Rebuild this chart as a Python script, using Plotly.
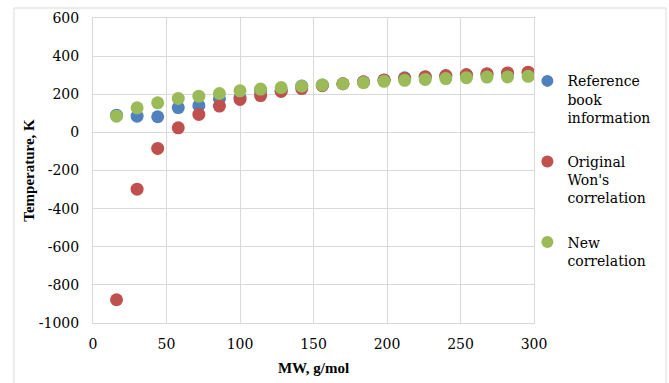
import plotly.graph_objects as go

mw = [16, 30, 44, 58, 72, 86, 100, 114, 128, 142, 156, 170, 184, 198, 212, 226, 240, 254, 268, 282, 296]
ref_book = [90, 85, 82, 130, 140, 176, 183, 216, 220, 243, 248, 255, 264, 274, 286, 290, 295, 300, 305, 309, 313]
won_orig = [-878, -298, -84, 24, 94, 138, 173, 193, 215, 230, 245, 255, 265, 275, 283, 292, 298, 303, 308, 312, 316]
new_corr = [85, 129, 155, 178, 190, 204, 218, 227, 235, 242, 248, 255, 261, 268, 273, 278, 282, 287, 290, 291, 294]

y_ticks = [-1000, -800, -600, -400, -200, 0, 200, 400, 600]
y_ticktext = ["-1000", "-800", "-600", "-400", "-200", "0", "200", "400", "600"]
x_ticks = [0, 50, 100, 150, 200, 250, 300]

series = [
    ("Reference<br>book<br>information", ref_book, "#4F81BD"),
    ("Original<br>Won's<br>correlation", won_orig, "#C0504D"),
    ("New<br>correlation", new_corr, "#9BBB59"),
]

bold_serif = "Liberation Serif"
reg_serif = "DejaVu Serif"
fig = go.Figure()
for i, (name, vals, col) in enumerate(series):
    fig.add_trace(go.Scatter(x=mw, y=vals, mode="markers", name=name,
                             legendgroup=f"g{i}",
                             marker=dict(color=col, size=13, line=dict(width=0))))

grid = "#d9d9d9"
fig.update_layout(
    width=669, height=383,
    margin=dict(l=93, r=135, t=18, b=60, autoexpand=False),
    paper_bgcolor="white", plot_bgcolor="white",
    font=dict(family=reg_serif, size=14, color="#000000"),
    showlegend=True,
    legend=dict(x=0.985, xanchor="left", y=0.845, yanchor="top",
                bgcolor="rgba(0,0,0,0)",
                font=dict(family=reg_serif, size=14, color="#000000"),
                valign="top", tracegroupgap=23, traceorder="grouped",
                itemsizing="constant"),
    xaxis=dict(range=[0, 300], tickvals=x_ticks, showgrid=True, gridcolor=grid, gridwidth=1,
               zeroline=False, showline=True, linecolor=grid, mirror=True,
               ticks="", ticklabelstandoff=8, automargin=False,
               tickfont=dict(family=reg_serif, size=14, color="#000000"),
               title=dict(text="<b>MW, g/mol</b>", font=dict(family=bold_serif, size=15), standoff=11)),
    yaxis=dict(range=[-1000, 600], tickvals=y_ticks, ticktext=y_ticktext,
               showgrid=True, gridcolor=grid, gridwidth=1,
               zeroline=False, showline=True, linecolor=grid, mirror=True,
               ticks="", ticklabelstandoff=10, automargin=False,
               tickfont=dict(family=reg_serif, size=14, color="#000000"),
               title=dict(text="<b>Temperature, K</b>", font=dict(family=bold_serif, size=15), standoff=0)),
    shapes=[dict(type="rect", xref="paper", yref="paper",
                 x0=(14 - 93) / 441, x1=(666 - 93) / 441,
                 y0=-0.3, y1=(323 - 8) / 305,
                 line=dict(color="#d9d9d9", width=1), fillcolor="rgba(0,0,0,0)", layer="below")],
)

fig.write_html("out.html")
